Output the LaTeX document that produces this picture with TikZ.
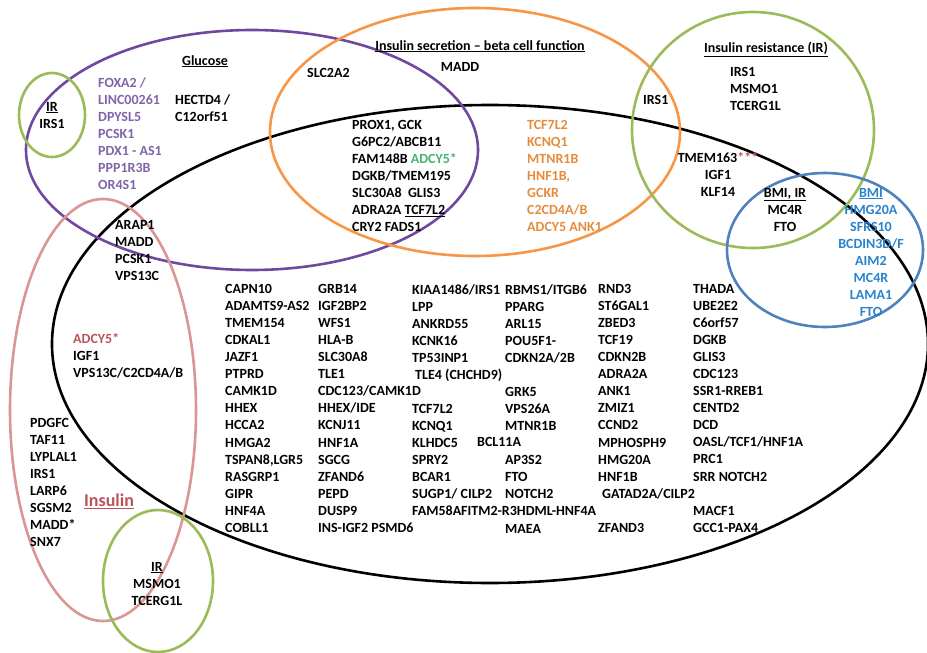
\documentclass[tikz,border=0pt]{standalone}
\usepackage{fontspec}
\setmainfont{Carlito}
\usepackage{tikz}

\definecolor{purpleline}{RGB}{112,72,160}
\definecolor{purpletext}{RGB}{128,100,170}
\definecolor{orangeline}{RGB}{247,150,70}
\definecolor{orangetext}{RGB}{228,140,60}
\definecolor{greenline}{RGB}{155,187,89}
\definecolor{blueline}{RGB}{79,129,189}
\definecolor{bluetext}{RGB}{40,130,205}
\definecolor{pinkline}{RGB}{217,150,148}
\definecolor{rosetext}{RGB}{185,85,90}
\definecolor{adcygreen}{RGB}{70,180,110}

\begin{document}
\begin{tikzpicture}[x=1pt, y=-1pt,
  gene/.style={font=\fontsize{14}{17.07}\selectfont\bfseries, inner sep=0pt,
               align=left, anchor=north west},
  genec/.style={gene, align=center, anchor=north},
  ring/.style={line width=2.6pt},
  blackring/.style={ring, black},
  purplering/.style={ring, purpleline},
  orangering/.style={ring, orangeline},
  greenring/.style={ring, greenline},
  bluering/.style={ring, blueline},
  pinkring/.style={ring, pinkline}
]
\useasboundingbox (0,0) rectangle (927,653);

% sets
\draw[blackring]  (490,344) ellipse [x radius=438, y radius=239];
\draw[purplering] (252,150) ellipse [x radius=226, y radius=120];
\draw[orangering] (475,132) ellipse [x radius=205, y radius=124];
\draw[greenring]  (753,130) ellipse [x radius=121, y radius=118];
\draw[bluering]   (825,250) ellipse [x radius=98,  y radius=77];
\draw[pinkring]   (103,410) ellipse [x radius=93,  y radius=211];
\draw[greenring]  (52,115)  ellipse [x radius=33,  y radius=42];
\draw[greenring]  (158,581) ellipse [x radius=55,  y radius=71];

% glucose
\node[genec] (irTop) at (52,102) {\underline{IR}\\IRS1};
\node[genec] (glucTitle) at (205,55) {\underline{Glucose}};
\node[gene, text=purpletext] (glucList) at (98,77)
  {FOXA2 /\\LINC00261\\DPYSL5\\PCSK1\\PDX1 - AS1\\PPP1R3B\\OR4S1};
\node[gene] (hectd) at (175,94) {HECTD4 /\\C12orf51};

% insulin secretion
\node[genec] (secTitle) at (480,40) {\underline{Insulin secretion -- beta cell function}};
\node[genec] (madd) at (460,62) {MADD};
\node[gene] (slc) at (307,68) {SLC2A2};
\node[gene] (betaList) at (352,120)
  {PROX1, GCK\\G6PC2/ABCB11\\FAM148B {\color{adcygreen}ADCY5*}\\DGKB/TMEM195\\
   SLC30A8\ \ GLIS3\\ADRA2A \underline{TCF7L2}\\CRY2 FADS1};
\node[gene, text=orangetext] (secList) at (527,120)
  {TCF7L2\\KCNQ1\\MTNR1B\\HNF1B,\\GCKR\\C2CD4A/B\\ADCY5 ANK1};

% insulin resistance
\node[genec] (irTitle) at (766,42) {\underline{Insulin resistance (IR)}};
\node[gene] (irList) at (730,67) {IRS1\\MSMO1\\TCERG1L};
\node[gene] (irsOne) at (643,95) {IRS1};
\node[genec] (tmem) at (718,152) {TMEM163{\color{rosetext}***}\\IGF1\\KLF14};

% BMI
\node[genec] (bmiIr) at (785,188) {\underline{BMI, IR}\\MC4R\\FTO};
\node[genec, text=bluetext] (bmiList) at (871,188)
  {\underline{BMI}\\HMG20A\\SFRS10\\BCDIN3D/F\\AIM2\\MC4R\\LAMA1\hspace*{16pt}\\FTO};

% insulin
\node[gene] (arap) at (115,220) {ARAP1\\MADD\\PCSK1\\VPS13C};
\node[gene] (adcy) at (73,333) {{\color{rosetext}ADCY5*}\\IGF1\\VPS13C/C2CD4A/B};
\node[gene] (insList) at (30,418)
  {PDGFC\\TAF11\\LYPLAL1\\IRS1\\LARP6\\SGSM2\\MADD*\\SNX7};
\node[genec, text=rosetext, font=\fontsize{18}{20}\selectfont\bfseries]
  (insTitle) at (109,494) {\underline{Insulin}};
\node[genec] (irBottom) at (157,562) {\underline{IR}\\MSMO1\\TCERG1L};

% type 2 diabetes loci
\node[gene] (colA) at (225,284)
  {CAPN10\\ADAMTS9-AS2\\TMEM154\\CDKAL1\\JAZF1\\PTPRD\\CAMK1D\\HHEX\\HCCA2\\HMGA2\\
   TSPAN8,LGR5\\RASGRP1\\GIPR\\HNF4A\\COBLL1};
\node[gene] (colB) at (318,284)
  {GRB14\\IGF2BP2\\WFS1\\HLA-B\\SLC30A8\\TLE1\\CDC123/CAMK1D\\HHEX/IDE\\KCNJ11\\HNF1A\\
   SGCG\\ZFAND6\\PEPD\\DUSP9\\INS-IGF2 PSMD6};
\node[gene] (colC) at (412,284)
  {KIAA1486/IRS1\\LPP\\ANKRD55\\KCNK16\\TP53INP1\\\hspace*{3pt}TLE4 (CHCHD9)\\\mbox{}\\TCF7L2\\KCNQ1\\
   KLHDC5\\SPRY2\\BCAR1\\SUGP1/ CILP2\\FAM58AFITM2-R3HDML-HNF4A};
\node[gene] (bcl) at (477,437.6) {BCL11A};
\node[gene] (colD) at (505,284)
  {RBMS1/ITGB6\\PPARG\\ARL15\\POU5F1-\\CDKN2A/2B\\\mbox{}\\GRK5\\VPS26A\\MTNR1B\\\mbox{}\\
   AP3S2\\FTO\\NOTCH2\\\mbox{}\\MAEA};
\node[gene] (colE) at (598,284)
  {RND3\\ST6GAL1\\ZBED3\\TCF19\\CDKN2B\\ADRA2A\\ANK1\\ZMIZ1\\CCND2\\MPHOSPH9\\
   HMG20A\\HNF1B\\\hspace*{4pt}GATAD2A/CILP2\\\mbox{}\\ZFAND3};
\node[gene] (colF) at (693,284)
  {THADA\\UBE2E2\\C6orf57\\DGKB\\GLIS3\\CDC123\\SSR1-RREB1\\CENTD2\\DCD\\OASL/TCF1/HNF1A\\
   PRC1\\SRR NOTCH2\\\mbox{}\\MACF1\\GCC1-PAX4};

\end{tikzpicture}
\end{document}
